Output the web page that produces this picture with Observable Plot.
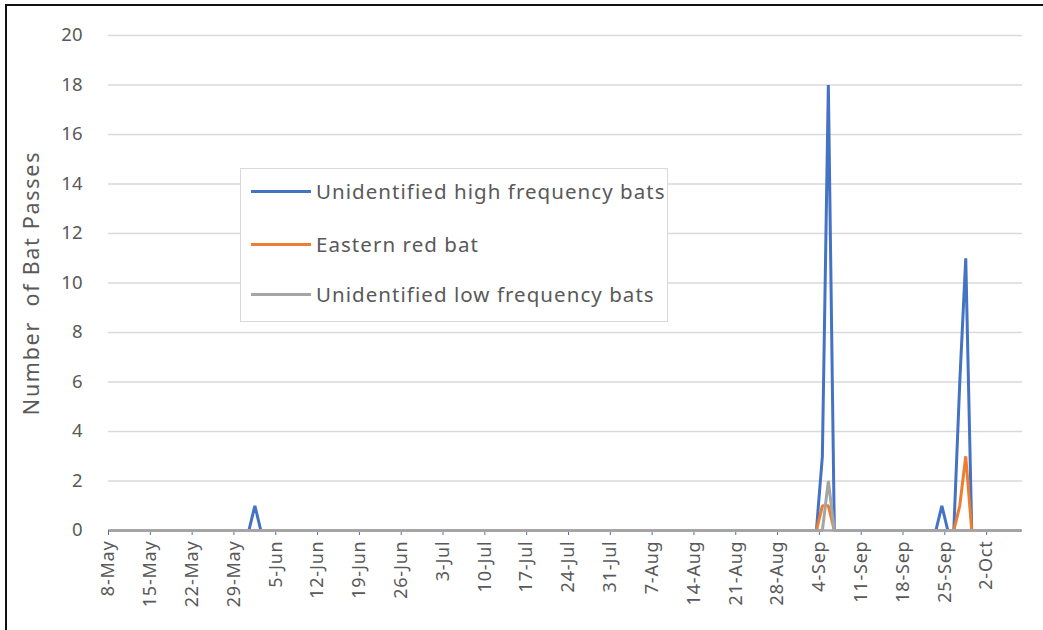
<!DOCTYPE html>
<html>
<head>
<meta charset="utf-8">
<script src="https://cdn.jsdelivr.net/npm/d3@7"></script>
<script src="https://cdn.jsdelivr.net/npm/@observablehq/plot@0.6"></script>
<style>
  html, body { margin: 0; padding: 0; background: #fff; }
  #wrap { position: relative; width: 1043px; height: 630px; overflow: hidden; font-family: "Noto Sans", sans-serif; }
  #frame { position: absolute; left: 5px; top: 4px; width: 1100px; height: 700px; border-left: 2px solid #111; border-top: 2px solid #111; pointer-events: none; }
  #legend { position: absolute; left: 240px; top: 168px; width: 428px; height: 154px; border: 1px solid #d9d9d9; background: #fff; box-sizing: border-box; }
  .item { position: absolute; left: 10px; display: flex; align-items: center; color: #595959; font-size: 20.5px; letter-spacing: 1.05px; white-space: nowrap; }
  .sw { width: 60px; height: 3px; margin-right: 5px; }
</style>
</head>
<body>
<div id="wrap"><div id="chart"></div><div id="legend"></div><div id="frame"></div></div>
<script>
// Observation dates (days shown; the series are zero on all omitted days)
const dates = ["2019-05-08","2019-05-31","2019-06-01","2019-06-02",
  "2019-09-03","2019-09-04","2019-09-05","2019-09-06",
  "2019-09-23","2019-09-24","2019-09-25","2019-09-26","2019-09-27","2019-09-28","2019-09-29","2019-10-07"];
const highFreq = [0,0,1,0, 0,3,18,0, 0,1,0,0,6,11,0,0];
const easternRed = [0,0,0,0, 0,1,1,0, 0,0,0,0,1,3,0,0];
const lowFreq = [0,0,0,0, 0,0,2,0, 0,0,0,0,0,0,0,0];

const seriesNames = ["Unidentified high frequency bats","Eastern red bat","Unidentified low frequency bats"];
const seriesColors = ["#4472C4","#ED7D31","#A5A5A5"];
const tickDates = ["2019-05-08","2019-05-15","2019-05-22","2019-05-29","2019-06-05","2019-06-12","2019-06-19","2019-06-26",
  "2019-07-03","2019-07-10","2019-07-17","2019-07-24","2019-07-31","2019-08-07","2019-08-14","2019-08-21","2019-08-28",
  "2019-09-04","2019-09-11","2019-09-18","2019-09-25","2019-10-02"];
const yTicks = [0,2,4,6,8,10,12,14,16,18,20];
const xDomain = ["2019-05-08","2019-10-08"];
const yLabel = "Number\u00a0 of Bat Passes";

const parse = d3.utcParse("%Y-%m-%d");
const allSeries = [highFreq, easternRed, lowFreq];
const rows = [];
allSeries.forEach((vals, s) => {
  vals.forEach((v, i) => rows.push({series: seriesNames[s], date: d3.utcHour.offset(parse(dates[i]), 12), value: v}));
});

const plot = Plot.plot({
  width: 1043,
  height: 630,
  marginTop: 35,
  marginBottom: 100,
  marginLeft: 108,
  marginRight: 21,
  style: {fontFamily: "Noto Sans, sans-serif", fontSize: "18px", color: "#595959", background: "transparent"},
  x: {type: "utc", domain: xDomain.map(parse)},
  y: {domain: [0, 20]},
  color: {domain: seriesNames, range: seriesColors},
  marks: [
    Plot.ruleY(yTicks.filter(d => d > 0), {stroke: "#d9d9d9", strokeWidth: 1.5}),
    Plot.ruleY([0], {stroke: "#a6a6a6", strokeWidth: 2.5}),
    Plot.axisY({ticks: yTicks, tickSize: 0, tickPadding: 26, fill: "#595959", fontSize: 18.5, label: null}),
    Plot.text([yLabel], {frameAnchor: "left", textAnchor: "middle", rotate: -90, dx: -76, fontSize: 21.5, fill: "#595959"}),
    Plot.axisX({ticks: tickDates.map(parse), tickFormat: d3.utcFormat("%-d-%b"), tickRotate: -90, tickSize: 5, tickPadding: 5, stroke: "#4472C4", fill: "#595959", label: null}),
    Plot.line(rows, {x: "date", y: "value", z: "series", stroke: "series", strokeWidth: 3, strokeLinejoin: "miter"})
  ]
});
document.getElementById("chart").appendChild(plot);
// letter spacing tweaks to match the reference's wider type
d3.select(plot).selectAll('g[aria-label="text"] text').style("letter-spacing", "1.7px");
d3.select(plot).selectAll('g[aria-label="x-axis tick label"] text').style("letter-spacing", "0.8px");

const legend = document.getElementById("legend");
const tops = [8, 61, 111];
seriesNames.forEach((name, i) => {
  const it = document.createElement("div");
  it.className = "item";
  it.style.top = tops[i] + "px";
  it.innerHTML = `<span class="sw" style="background:${seriesColors[i]}"></span><span>${name}</span>`;
  legend.appendChild(it);
});
</script>
</body>
</html>
